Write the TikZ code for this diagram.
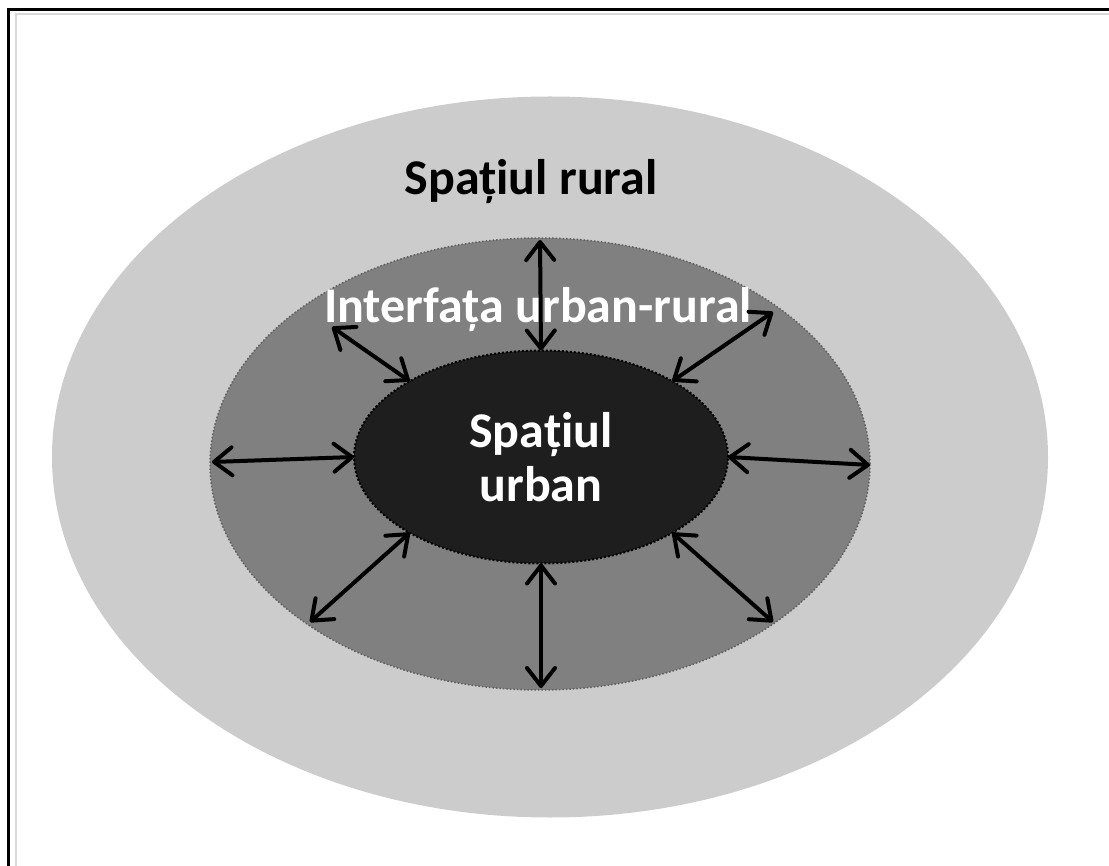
\documentclass[tikz,border=0pt]{standalone}
\usepackage{fontspec}
\setmainfont{Carlito}
\usetikzlibrary{shapes.geometric,arrows.meta}
\definecolor{ruralgray}{HTML}{CCCCCC}
\definecolor{interfgray}{HTML}{808080}
\definecolor{urbangray}{HTML}{1E1E1E}
\begin{document}
\begin{tikzpicture}[x=1pt,y=-1pt,
    zone/.style={ellipse, inner sep=0pt, outer sep=0pt},
    lbl/.style={font=\fontsize{50}{57}\selectfont\bfseries, align=center},
    arr/.style={{Straight Barb[length=18pt,width=28pt,round]}-{Straight Barb[length=18pt,width=28pt,round]}, line width=4pt}]
  \useasboundingbox (0,0) rectangle (1109,866);
  % frame
  \draw[gray!30, line width=2.5pt] (16,866) -- (16,14) -- (1109,14);
  \draw[line width=3pt] (8,866) -- (8,10) -- (1109,10);
  % zones
  \node[zone, fill=ruralgray, minimum width=996pt, minimum height=721pt] (rural) at (550,457) {};
  \node[zone, fill=interfgray, draw=interfgray!75!black, dotted, line width=1.5pt,
        minimum width=660pt, minimum height=452pt] (interf) at (540,464) {};
  \node[zone, lbl, fill=urbangray, draw=black, dotted, line width=2pt, text=white,
        minimum width=374pt, minimum height=213pt] (urban) at (541,457) {Spațiul\\[-3pt]urban};
  % labels
  \node[lbl, anchor=base] (ruraltxt) at (531,195) {Spațiul rural};
  \node[lbl, anchor=base, text=white] (interftxt) at (538,323) {Interfața urban-rural};
  % arrows
  \coordinate (n)  at (540,240);
  \coordinate (nw) at (332,327);
  \coordinate (ne) at (773,312);
  \coordinate (w)  at (212,462);
  \coordinate (e)  at (870,465);
  \coordinate (sw) at (310,622);
  \coordinate (s)  at (541,688);
  \coordinate (se) at (773,622);
  \foreach \a/\p in {90/n, 150/nw, 30/ne, 180/w, 0/e, 210/sw, 270/s, 330/se}
    \draw[arr] (urban.\a) -- (\p);
\end{tikzpicture}
\end{document}
